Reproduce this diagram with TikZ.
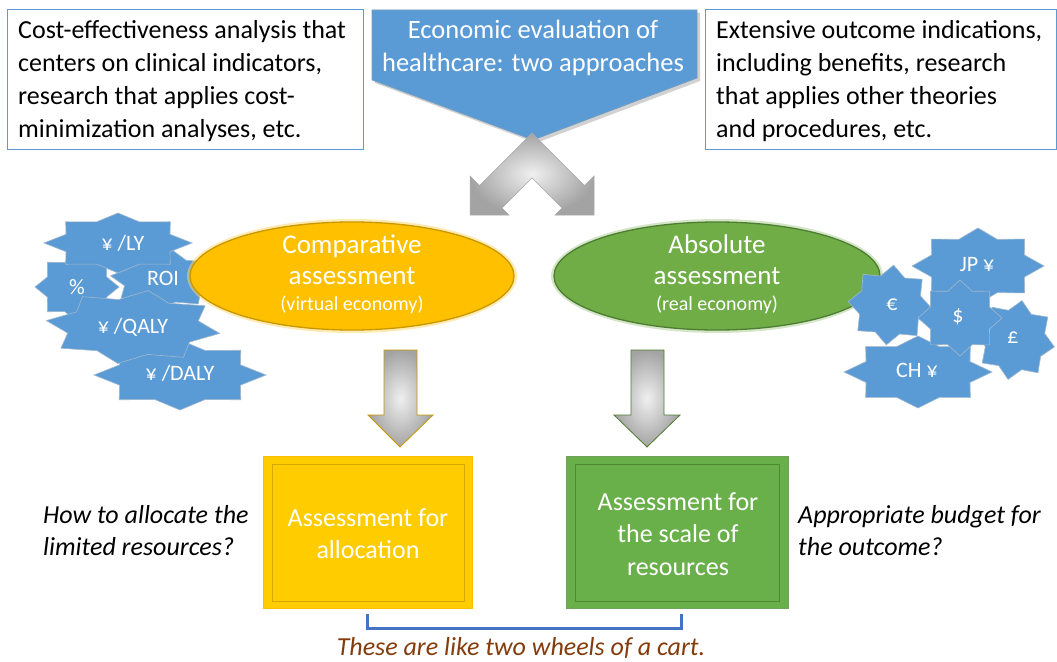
\documentclass[tikz,border=0pt]{standalone}
\usepackage{fontspec}
\setmainfont{Carlito}
\usetikzlibrary{shapes.geometric}
\definecolor{bluef}{HTML}{5B9BD5}
\definecolor{blueline}{HTML}{41719C}
\definecolor{yel}{HTML}{FFC000}
\definecolor{yelline}{HTML}{C99700}
\definecolor{boxyel}{HTML}{FFCC00}
\definecolor{boxyelline}{HTML}{D9A800}
\definecolor{grn}{HTML}{70AD47}
\definecolor{grnline}{HTML}{4E7D31}
\definecolor{boxgrn}{HTML}{6AB04A}
\definecolor{boxgrnline}{HTML}{4F8A33}
\definecolor{brk}{HTML}{4472C4}
\definecolor{capbrown}{HTML}{843C0C}
\newcommand\starblob[5]{%
  \fill[bluef, draw=blueline!50, line width=0.6bp] plot[samples=16, domain=0:15, variable=\k]
    ({#1+#3*(1-0.24*mod(round(\k),2))*cos(#5+90+22.5*\k)},
     {#2+#4*(1-0.24*mod(round(\k),2))*sin(#5+90+22.5*\k)}) -- cycle;}
\tikzset{
  big/.style={font=\fontsize{26bp}{33bp}\selectfont, inner sep=0pt},
  whitetxt/.style={text=white, align=center},
  startxt/.style={text=white, font=\fontsize{22bp}{24bp}\selectfont, inner sep=0pt},
  topbox/.style={draw=bluef, line width=1bp, fill=white},
  ital/.style={font=\fontsize{26bp}{32bp}\selectfont\itshape, inner sep=0pt, align=left, anchor=west},
}
\begin{document}
\begin{tikzpicture}[x=1bp, y=-1bp]
\useasboundingbox (0,0) rectangle (1057,662);
\fill[white] (0,0) rectangle (1057,662);

% top boxes
\draw[topbox] (7,10) rectangle (363,150);
\node[big, anchor=west, align=left] (lefttxt) at (18,81)
  {Cost-effectiveness analysis that\\centers on clinical indicators,\\research that applies cost-\\minimization analyses, etc.};
\draw[topbox] (705,10) rectangle (1056,150);
\node[big, anchor=west, align=left] (righttxt) at (716,81)
  {Extensive outcome indications,\\including benefits, research\\that applies other theories\\and procedures, etc.};

% title shape
\fill[black, opacity=0.18] (375,13) -- (700,13) -- (700,81) -- (536,143) -- (375,83) -- cycle;
\fill[bluef, draw=blueline!70, line width=0.6bp] (372,10) -- (697,10) -- (697,78) -- (533,140) -- (372,80) -- cycle;
\node[whitetxt, font=\fontsize{26.5bp}{33bp}\selectfont, inner sep=0pt] (title) at (533,48) {Economic evaluation of\\healthcare: two approaches};

% chevron double arrow
\shade[inner color=gray!12, outer color=gray!72, draw=gray!65, line width=0.5bp]
  (532,133) -- (479.5,185.5) -- (470,176) -- (470,215) -- (509,215) -- (502,208) -- (532,178)
  -- (562,208) -- (555,215) -- (594,215) -- (594,176) -- (584.5,185.5) -- cycle;

% left stars
\starblob{165}{280}{55}{30}{8}
\starblob{77}{287}{42}{35}{0}
\starblob{118}{243}{74}{30}{0}
\starblob{180}{375}{86}{35}{0}
\starblob{133}{327}{88}{37}{10}
\node[startxt] (ly) at (123,243) {¥ /LY};
\node[startxt] (pct) at (77,287) {\%};
\node[startxt] (roi) at (163,278) {ROI};
\node[startxt] (qaly) at (133,327) {¥ /QALY};
\node[startxt] (daly) at (180,373) {¥ /DALY};

% ellipses
\fill[yel!60, opacity=0.5] (352,276) ellipse [x radius=165, y radius=57];
\node[ellipse, minimum width=324bp, minimum height=108bp, inner sep=0pt, fill=yel, draw=yelline, line width=1.3bp] (comp) at (352,276) {};
\node[whitetxt, font=\fontsize{27bp}{31bp}\selectfont, inner sep=0pt] (comptxt) at (352,260) {Comparative\\assessment};
\node[whitetxt, font=\fontsize{20bp}{22bp}\selectfont, inner sep=0pt] (compsub) at (352,305) {(virtual economy)};

\fill[grn!60, opacity=0.5] (717,276) ellipse [x radius=166, y radius=57];
\node[ellipse, minimum width=326bp, minimum height=108bp, inner sep=0pt, fill=grn, draw=grnline, line width=1.3bp] (abs) at (717,276) {};
\node[whitetxt, font=\fontsize{27bp}{31bp}\selectfont, inner sep=0pt] (abstxt) at (717,260) {Absolute\\assessment};
\node[whitetxt, font=\fontsize{20bp}{22bp}\selectfont, inner sep=0pt] (abssub) at (717,305) {(real economy)};

% right stars
\starblob{978}{266}{66}{38}{0}
\starblob{1015}{340}{40}{40}{10}
\starblob{890}{305}{42}{40}{5}
\starblob{918}{372}{74}{36}{0}
\starblob{960}{318}{42}{38}{0}
\node[startxt] (jp) at (977,265) {JP ¥};
\node[startxt] (eur) at (892,305) {€};
\node[startxt] (usd) at (958,317) {\$};
\node[startxt] (gbp) at (1013,338) {£};
\node[startxt] (ch) at (917,370) {CH ¥};

% down arrows
\shade[inner color=gray!12, outer color=gray!72, draw=yelline, line width=0.8bp]
  (384,350) -- (417,350) -- (417,415) -- (433,415) -- (400,447) -- (368,415) -- (384,415) -- cycle;
\shade[inner color=gray!12, outer color=gray!72, draw=grnline, line width=0.8bp]
  (631,350) -- (664,350) -- (664,415) -- (680,415) -- (647,447) -- (614,415) -- (631,415) -- cycle;

% boxes
\node[rectangle, fill=boxyel, draw=boxyel!80!orange, line width=0.6bp, minimum width=209bp, minimum height=152bp, inner sep=0pt] (alloc) at (367.5,532) {};
\draw[boxyelline, line width=0.8bp] (272,464) rectangle (464,601);
\node[whitetxt, font=\fontsize{26bp}{32bp}\selectfont, inner sep=0pt] (alloctxt) at (368,534) {Assessment for\\allocation};

\node[rectangle, fill=boxgrn, draw=boxgrnline!80, line width=0.6bp, minimum width=222bp, minimum height=152bp, inner sep=0pt] (scale) at (677,532) {};
\draw[boxgrnline, line width=0.6bp] (575,464) rectangle (779,601);
\node[whitetxt, font=\fontsize{26bp}{32.5bp}\selectfont, inner sep=0pt] (scaletxt) at (678,534) {Assessment for\\the scale of\\resources};

% side questions
\node[ital] (q1) at (43,531) {How to allocate the\\limited resources?};
\node[ital] (q2) at (798,531) {Appropriate budget for\\the outcome?};

% bracket
\coordinate (b1) at (367,614);
\coordinate (b2) at (681,614);
\draw[brk, line width=3bp] (b1) -- ++(0,14) -| (b2);
\node[font=\fontsize{26bp}{30bp}\selectfont\itshape, text=capbrown, inner sep=0pt] (cap) at (521,648) {These are like two wheels of a cart.};
\end{tikzpicture}
\end{document}
